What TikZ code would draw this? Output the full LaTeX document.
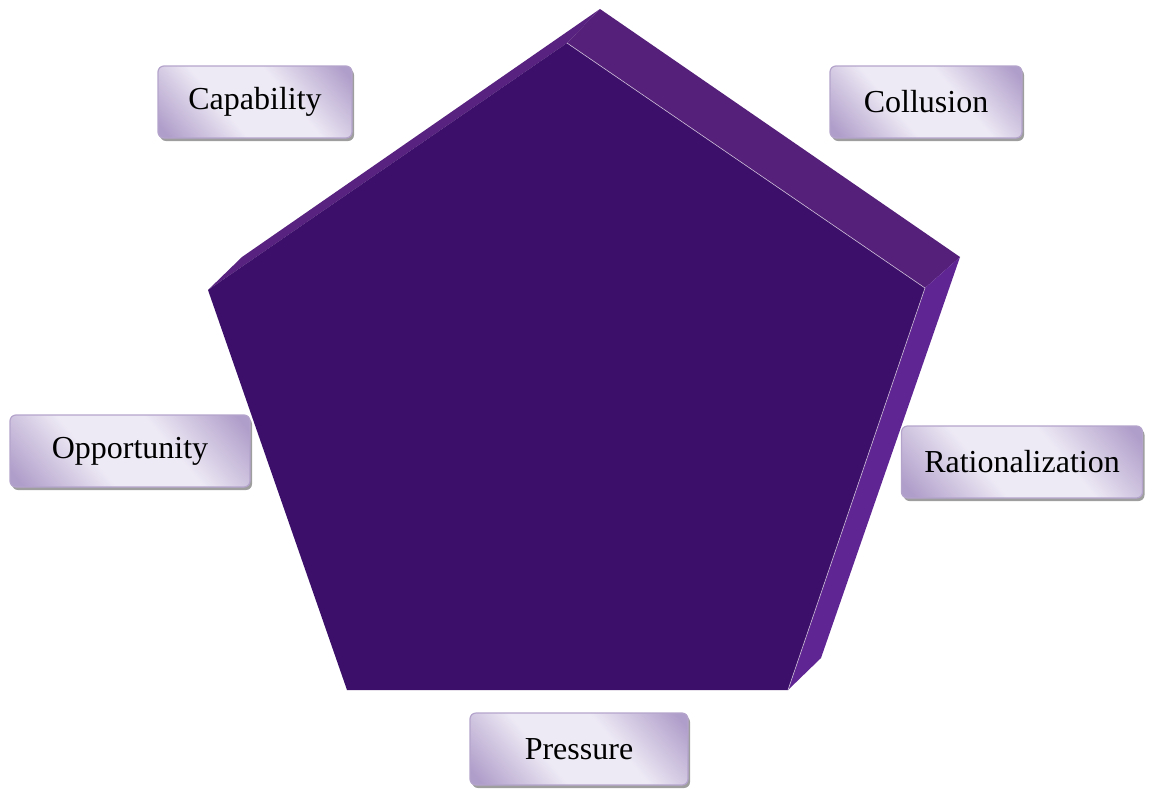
\documentclass[tikz,border=0pt]{standalone}
\usepackage{fontspec}
\setmainfont{Liberation Serif}
\usetikzlibrary{shadows}
\definecolor{bxA}{RGB}{176,158,202}
\definecolor{bxL}{RGB}{238,234,245}
\definecolor{bxB}{RGB}{180,164,204}
\definecolor{front}{RGB}{60,15,106}
\definecolor{topface}{RGB}{85,32,122}
\definecolor{rightface}{RGB}{95,37,146}
\definecolor{leftface}{RGB}{88,34,128}
\pgfdeclarehorizontalshading{boxsh}{100bp}{color(0bp)=(bxA); color(18bp)=(bxA); color(40bp)=(bxL); color(60bp)=(bxL); color(82bp)=(bxA); color(100bp)=(bxA)}
\begin{document}
\begin{tikzpicture}[x=1pt,y=-1pt,
  lbl/.style={draw=bxB, line width=1.2pt, rounded corners=6pt, shading=boxsh, shading angle=40,
    minimum height=72pt, inner sep=0pt, font=\fontsize{32}{38}\selectfont,
    general shadow={fill=black!38, shadow xshift=2pt, shadow yshift=-3pt}}]
\useasboundingbox (0,0) rectangle (1157,788);
% pentagon faces
\coordinate (ft) at (567,43);
\coordinate (fr) at (925,288);
\coordinate (fbr) at (788,690);
\coordinate (fbl) at (347,690);
\coordinate (fl) at (208,290);
\coordinate (bt) at (600,9);
\coordinate (br) at (960,257);
\coordinate (bbr) at (821,658);
\coordinate (bl) at (242,257);
\fill[leftface] (fl) -- (bl) -- (bt) -- (ft) -- cycle;
\fill[topface] (ft) -- (bt) -- (br) -- (fr) -- cycle;
\fill[rightface] (fr) -- (br) -- (bbr) -- (fbr) -- cycle;
\fill[front] (ft) -- (fr) -- (fbr) -- (fbl) -- (fl) -- cycle;
\draw[white!70!topface, line width=0.6pt] (ft) -- (fr) -- (fbr);
% labels
\node[lbl, minimum width=194pt] (cap) at (255,102) {Capability};
\node[lbl, minimum width=192pt] (col) at (926,102) {Collusion};
\node[lbl, minimum width=240pt] (opp) at (130,451) {Opportunity};
\node[lbl, minimum width=241pt] (rat) at (1022,462) {Rationalization};
\node[lbl, minimum width=218pt] (pre) at (579,749) {Pressure};
\end{tikzpicture}
\end{document}
